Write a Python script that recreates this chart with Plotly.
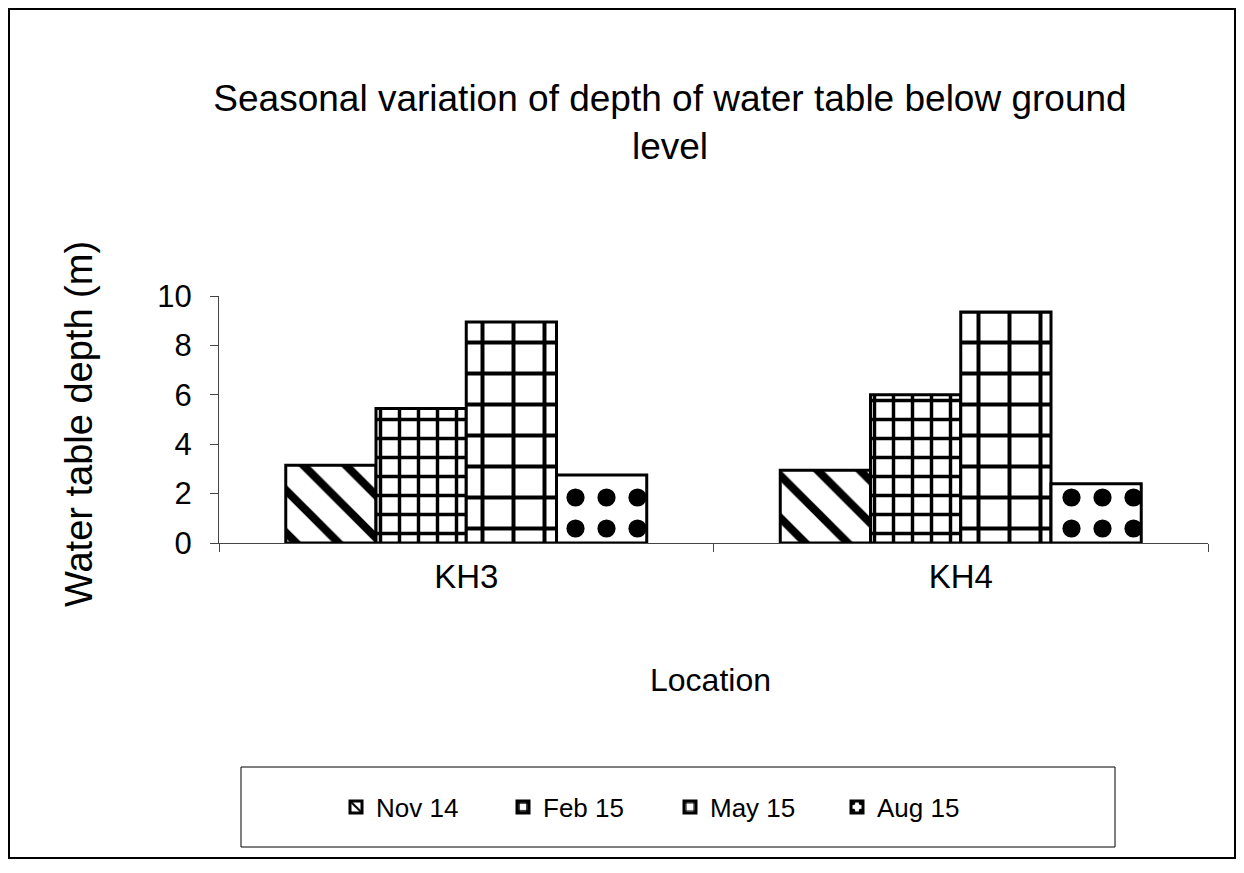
import plotly.graph_objects as go

locations = ["KH3", "KH4"]
seasons = ["Nov 14", "Feb 15", "May 15", "Aug 15"]
nov14 = [3.15, 2.95]
feb15 = [5.45, 6.0]
may15 = [8.95, 9.35]
aug15 = [2.75, 2.4]
series = [nov14, feb15, may15, aug15]
patterns = [
    dict(shape="\\", size=30, solidity=0.27),
    dict(shape="+", size=19, solidity=0.33),
    dict(shape="+", size=31, solidity=0.24),
    dict(shape=".", size=31, solidity=0.27),
]

FONT = "Liberation Sans, Arial, sans-serif"

fig = go.Figure()
for name, vals, pat in zip(seasons, series, patterns):
    fig.add_trace(go.Bar(
        x=locations, y=vals, name=name,
        marker=dict(color="white", line=dict(color="black", width=3),
                    pattern=dict(fgcolor="black", bgcolor="white", fgopacity=1,
                                 fillmode="overlay", **pat)),
    ))

# figure coordinates (page has an 8px body margin)
W, H = 1228, 857
L, R, T, B = 211, 1200, 288, 535
pw, ph = R - L, B - T

def px(x):
    return (x - L) / pw

def py(y):
    return (B - y) / ph

fig.update_layout(
    width=W, height=H,
    margin=dict(l=L, r=W - R, t=T, b=H - B),
    paper_bgcolor="white", plot_bgcolor="white",
    font=dict(family=FONT, color="black", size=26),
    barmode="group", bargap=0.27, bargroupgap=0,
    title=dict(text="Seasonal variation of depth of water table below ground<br>level",
               x=662 / W, xanchor="center", y=1 - 103 / H, yanchor="middle",
               font=dict(size=37, family=FONT)),
    xaxis=dict(showline=True, linecolor="#444", linewidth=1, ticks="outside",
               tickson="boundaries", ticklen=8, tickcolor="#444",
               range=[-0.5, 1.5], tickfont=dict(size=33), ticklabelstandoff=4),
    yaxis=dict(range=[0, 10], dtick=2, showline=True, linecolor="#444", linewidth=1,
               ticks="outside", ticklen=8, tickcolor="#444", showgrid=False,
               zeroline=False, tickfont=dict(size=31), ticklabelstandoff=12),
    legend=dict(orientation="h", x=px(662), xanchor="center", y=py(799), yanchor="middle",
                font=dict(size=26), entrywidth=122, itemwidth=30,
                bgcolor="rgba(0,0,0,0)"),
    showlegend=True,
)

fig.add_annotation(text="Location", xref="paper", yref="paper", x=px(702), y=py(672),
                   xanchor="center", yanchor="middle", showarrow=False, font=dict(size=32))
fig.add_annotation(text="Water table depth (m)", xref="paper", yref="paper", x=px(71), y=py(416),
                   xanchor="center", yanchor="middle", showarrow=False, textangle=-90,
                   font=dict(size=38))

# outer border
fig.add_shape(type="rect", xref="paper", yref="paper",
              x0=px(1), x1=px(1227), y0=py(850), y1=py(1),
              line=dict(color="black", width=2), fillcolor="rgba(0,0,0,0)", layer="below")
# legend box
fig.add_shape(type="rect", xref="paper", yref="paper",
              x0=px(233), x1=px(1107), y0=py(839), y1=py(759),
              line=dict(color="black", width=1), fillcolor="rgba(0,0,0,0)", layer="below")

fig.write_html("out.html")
